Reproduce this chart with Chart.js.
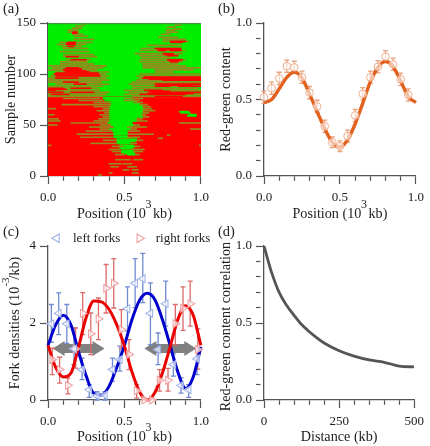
<!DOCTYPE html>
<html><head><meta charset="utf-8">
<style>html,body{margin:0;padding:0;background:#fff;width:430px;height:446px;overflow:hidden}
canvas{position:absolute}</style>
<script src="https://cdn.jsdelivr.net/npm/chart.js@4/dist/chart.umd.min.js"></script>
</head><body>
<canvas id="a" style="left:0;top:0" width="215" height="223"></canvas>
<canvas id="b" style="left:215px;top:0" width="215" height="223"></canvas>
<canvas id="c" style="left:0;top:223px" width="215" height="223"></canvas>
<canvas id="d" style="left:215px;top:223px" width="215" height="223"></canvas>
<script>
// ---------- panel (a): runs are [sample, from, to]
const redBaseTopSample = 77;
const sampleCount = 150;
const oliveRuns = [
[149,.22,.25],[147,.18,.23],[145,.16,.22],[143,.13,.20],[141,.13,.20],[139,.16,.23],[137,.17,.26],[134,.17,.30],[131,.08,.29],[129,.06,.25],[127,.09,.22],[125,.10,.26],[122,.08,.27],[119,.10,.30],[117,.10,.32],[114,.12,.28],[112,.08,.26],[110,.08,.30],[108,0,.38],[106,.03,.36],[104,0,.32],[102,.05,.40],[100,.03,.38],[98,.02,.40],[96,0,.38],[94,0,.40],[92,0,.35],[90,.05,.40],[88,0,.36],[86,0,.33],[84,0,.34],[82,0,.40],[80,0,.38],[78,0,.36],
[148,.83,.87],[146,.78,.83],[144,.82,.87],[143,.77,.83],[141,.77,.85],[139,.74,.80],[136,.72,.85],[134,.75,.90],[132,.75,.92],[128,.65,.87],[125,.61,.87],[123,.60,.90],[120,.57,.88],[118,.60,.85],[116,.61,.80],[114,.60,.90],[112,.60,.88],[110,.62,.85],[108,.62,.90],[106,.62,1],[104,.70,.95],[102,.70,.82],[100,.60,1],[98,.58,.99],[96,.60,1],[94,.58,.80],[92,.55,1],[90,.53,1],[88,.55,1],[86,.55,.98],[84,.50,1],[82,.53,1],[80,.50,1],[78,.55,1],
[76,.10,.34],[76,.50,.62],[74,.20,.36],[74,.50,.60],[72,.30,.40],[72,.56,.62],[70,.09,.41],[70,.60,.65],[68,.30,.40],[68,.62,.67],[66,.36,.40],[66,0,.05],[66,.62,.68],[64,.32,.40],[64,.62,.70],[62,.37,.40],[62,.62,.66],[60,.34,.40],[60,.61,.64],[60,0,.04],[58,.36,.40],[58,.62,.66],[56,.33,.40],[56,0,.07],[56,.58,.62],[54,.30,.40],[54,.58,.65],[54,0,.08],[52,.15,.39],[52,.86,1],[50,.34,.41],[50,.56,.60],[50,0,.06],[48,.27,.43],[48,.52,.645],[46,.34,.40],[46,.54,.58],[46,.93,1],[44,.25,.42],[44,.52,.60],[41,.19,.43],[41,.52,.69],[38,.21,.43],[38,.52,.60],[35,.36,.45],[35,.58,.62],[32,.28,.45],[32,.54,.58],[29,.42,.49],[29,.57,.60],[26,.40,.47],[26,.55,.63],[24,.42,.48],[24,.56,.62],[21,.44,.50],[21,.57,.60],[16,.44,.54],[16,.56,.62],[12,.40,.48],[12,.49,.55],[9,.41,.46],[9,.52,.58],[6,.49,.53],[6,.55,.59],[3,.40,.42],[3,.55,.59],[1,.33,.35],[30,0,.02],[30,.99,1],[37,.72,.75],[40,.78,.80]
];
const topEdgeRun = [[150,0,1]];
const redRuns = [
[141,.16,.19],[140,.16,.19],[131,.13,.18],[130,.12,.18],[129,.12,.18],[127,.13,.17],[117,.12,.20],[114,.15,.25],[106,.12,.20],[105,.11,.22],[104,.10,.22],[103,.11,.25],[102,.12,.27],[101,.05,.33],[100,.04,.33],[99,.05,.34],[98,.05,.34],[96,.05,.20],[92,.10,.20],[90,.17,.25],[86,0,.10],[86,.15,.28],[85,0,.12],[84,0,.05],[82,0,.10],[82,.15,.30],[80,.02,.14],
[132,.80,.90],[131,.80,.88],[125,.70,.87],[124,.72,.87],[123,.72,.77],[123,.80,.87],[120,.75,.82],[119,.76,.82],[118,.78,.85],[114,.78,.88],[113,.79,.86],[112,.80,.85],[97,.63,1],[96,.62,1],[95,.66,1],[94,.75,1],[90,.70,1],[89,.72,.95],[88,.70,.80],[88,.85,1],[84,.63,.75],[83,.66,.80],[82,.68,1],[81,.65,.95],[80,.60,.90],[78,.70,.88]
];
const greenRuns = [
[77,.36,.55],[75,.38,.56],[73,.42,.58],[71,.42,.60],[69,.41,.62],[67,.41,.62],[65,.41,.63],[63,.41,.62],[61,.41,.61],[59,.41,.62],[57,.41,.58],
[76,.36,.50],[74,.37,.50],[72,.40,.56],[70,.41,.60],[68,.40,.62],[66,.40,.62],[64,.40,.62],[62,.40,.62],[60,.40,.61],[58,.40,.62],[56,.40,.58],[55,.42,.56],[54,.40,.58],[53,.40,.55],[52,.39,.55],[51,.42,.55],[50,.41,.56],[49,.42,.55],[48,.43,.52],[47,.43,.54],[46,.40,.54],[45,.42,.52],[44,.42,.52],[43,.43,.52],[42,.43,.52],[41,.43,.52],[39,.43,.52],[38,.43,.52],[36,.45,.58],[35,.45,.58],[34,.45,.57],[33,.45,.54],[32,.45,.54],[30,.47,.56],[29,.49,.57],[28,.47,.56],[27,.47,.55],[25,.48,.56],[24,.48,.56],[23,.48,.56],[22,.50,.57],[21,.52,.57],
[60,.92,.97],[59,.91,.97],[62,.87,.93],[63,.86,.92]
];
// ---------- panel (b)
const rgX = [0,.05,.1,.15,.2,.25,.3,.35,.4,.45,.5,.55,.6,.65,.7,.75,.8,.85,.9,.95];
const rgValues = [.515,.574,.638,.718,.71,.645,.545,.455,.325,.22,.195,.26,.396,.537,.645,.714,.78,.73,.632,.53];
const rgErrors = [.04,.04,.04,.04,.04,.04,.04,.04,.04,.035,.035,.04,.04,.04,.04,.04,.04,.04,.04,.04];
const rgCurveX = [0,.05,.1,.15,.2,.25,.3,.35,.4,.45,.5,.55,.6,.65,.7,.75,.8,.85,.9,.95,1];
const rgCurveY = [.48,.50,.57,.645,.68,.64,.535,.42,.31,.22,.19,.235,.34,.475,.615,.71,.75,.715,.62,.52,.48];
// ---------- panel (c)
const leftX  = [.022,.07,.123,.17,.223,.27,.32,.372,.422,.47,.52,.57,.62,.67,.72,.77,.82,.87,.92,.975];
const leftY  = [1.98,2.25,1.98,1.33,.79,.27,.11,.13,.79,1.05,2.37,3.03,3.15,2.25,1.31,2.5,.92,.38,.27,1.07];
const leftHi = [2.48,2.78,2.48,1.87,1.09,.40,.22,.22,1.09,1.40,2.94,3.67,3.81,3.04,1.74,3.09,1.20,.58,.40,1.32];
const leftLo = [1.50,1.70,1.47,.92,.53,.07,0,0,.49,.75,1.79,2.40,2.53,1.44,.92,1.92,.62,.18,.07,.66];
const rightX  = [.028,.076,.13,.18,.227,.28,.33,.38,.43,.48,.53,.58,.63,.68,.73,.785,.833,.883,.93,.98];
const rightY  = [1.05,.79,.38,1.33,2.25,1.72,2.11,2.90,3.03,1.83,1.18,.24,0,0,.51,.51,1.98,2.38,2.50,1.31];
const rightHi = [1.35,1.11,.57,1.87,2.79,2.26,2.65,3.52,3.67,2.35,1.57,.40,.04,.04,.79,.82,2.48,2.94,3.09,1.85];
const rightLo = [.66,.44,.16,.83,1.70,1.18,1.57,2.26,2.39,1.33,.79,.05,0,0,.23,.23,1.44,1.81,1.92,.80];
const curveX = [0,.05,.1,.15,.2,.25,.3,.35,.4,.45,.5,.55,.6,.65,.7,.75,.8,.85,.9,.95,1];
const leftCurve  = [1.42,1.95,2.2,1.95,1.25,.62,.17,.13,.36,.85,1.42,2.1,2.6,2.77,2.6,2.07,1.4,.72,.3,.6,1.38];
const rightCurve = [1.42,.85,.6,.7,1.38,2.15,2.57,2.55,2.35,1.95,1.4,.72,.2,0,.2,.72,1.4,2.1,2.45,2.2,1.42];
const arrowSpans = [[.03,.37],[.63,.97]];
const arrowLevel = 1.34;
// ---------- panel (d)
const distances = [0,10,25,50,75,100,125,150,175,200,250,300,350,400,450,500];
const correlation = [1,.93,.83,.70,.615,.55,.49,.445,.405,.37,.32,.285,.26,.245,.22,.215];

const SERIF = "'Liberation Serif'";
const INK = '#222';
const AXIS = '#555';
Chart.defaults.animation = false;
Chart.defaults.font.family = SERIF;
Chart.defaults.color = INK;

const toPts = (xs, ys) => xs.map((x,i)=>({x, y:ys[i]}));
const toBars = runs => runs.map(r=>({y:r[0], x:[r[1],r[2]]}));

function axis(min,max,step,majors,fmt,title,size,opts){
  return Object.assign({
    type:'linear',min,max,offset:false,
    border:{color:AXIS,width:1.3},
    grid:{drawOnChartArea:false,drawTicks:true,tickLength:8,offset:false,tickColor:AXIS,tickWidth:1.2,
      tickBorderDash:c=>majors.some(m=>Math.abs(m-c.tick.value)<1e-6)?[]:[4.5,100]},
    ticks:{stepSize:step,autoSkip:false,maxRotation:0,padding:size.pad,font:{size:13},color:INK,
      callback:v=>{const m=majors.find(m=>Math.abs(m-v)<1e-6);return m===undefined?'':fmt(m);}},
    title:{display:true,text:title,font:{size:14.2},color:INK,padding:size.titlePad},
    afterFit:s=>{ if(size.width) s.width=size.width; if(size.height) s.height=size.height; }
  },opts||{});
}
const f1 = v=>v.toFixed(1);
const f0 = v=>String(v);

function base(title, extra){
  return {
    responsive:false,maintainAspectRatio:false,
    layout:{padding:{left:3,right:extra.right,top:0,bottom:0}},
    plugins:{legend:{display:false},tooltip:{enabled:false},
      title:{display:true,text:title,align:'start',color:INK,font:{size:14.5,weight:'normal'},padding:{top:0,bottom:5.6}}},
  };
}
function errorBars(groups, capPx){
  return {id:'errorBars',beforeDatasetsDraw(chart){
    const {ctx,scales:{x,y}}=chart;
    ctx.save();
    groups.forEach(g=>{
      ctx.strokeStyle=g.color;ctx.lineWidth=1.3;
      g.x.forEach((v,i)=>{
        const px=x.getPixelForValue(v),t=y.getPixelForValue(g.hi[i]),b=y.getPixelForValue(g.lo[i]);
        ctx.beginPath();ctx.moveTo(px,t);ctx.lineTo(px,b);
        ctx.moveTo(px-capPx,t);ctx.lineTo(px+capPx,t);
        ctx.moveTo(px-capPx,b);ctx.lineTo(px+capPx,b);ctx.stroke();
      });
    });
    ctx.restore();
  }};
}
function superscript(which, text, dx, dy, size){
  return {id:'sup'+which,afterDraw(chart){
    const {ctx,chartArea:a}=chart;
    ctx.save();ctx.fillStyle=INK;ctx.font=size+'px '+SERIF;ctx.textAlign='center';ctx.textBaseline='middle';
    if(which==='x'){ctx.fillText(text,(a.left+a.right)/2+dx,dy);}
    else{ctx.translate(dx,(a.top+a.bottom)/2+dy);ctx.rotate(-Math.PI/2);ctx.fillText(text,0,0);}
    ctx.restore();
  }};
}
const POS = 'Position (10  kb)';
const xSize = h=>({height:h,pad:6,titlePad:{top:0,bottom:.5}});
const ySize = (w,t)=>({width:w,pad:4,titlePad:{top:t||0,bottom:0}});

// (a)
const allRows=[];for(let s=0;s<=sampleCount;s++)allRows.push(s);
const sizes=[1.6,1.6,1.3,1.0,1.0,1.6];
new Chart(document.getElementById('a'),{type:'bar',
  data:{datasets:[
    {label:'background green',data:allRows.map(s=>({y:s,x:[0,1]})),backgroundColor:'#00ee00'},
    {label:'background red',data:allRows.filter(s=>s<=redBaseTopSample).map(s=>({y:s,x:[0,1]})),backgroundColor:'#ff0000'},
    {label:'green',data:toBars(greenRuns),backgroundColor:'#00ee00'},
    {label:'mixed',data:toBars(oliveRuns),backgroundColor:'#968a1e'},
    {label:'red',data:toBars(redRuns),backgroundColor:'#ff0000'},
    {label:'edge',data:toBars(topEdgeRun),backgroundColor:'#3c9a3c'}
  ].map((d,i)=>Object.assign(d,{barThickness:sizes[i],borderWidth:0,grouped:false,order:10-i}))},
  options:Object.assign(base('(a)',{right:13}),{indexAxis:'y',
    scales:{
      x:axis(0,1,.1,[0,.5,1],f1,POS,xSize(47)),
      y:axis(0,150,50,[0,50,100,150],f0,'Sample number',ySize(45))
    }}),
  plugins:[superscript('x','3',24,205,12)]
});
// (b)
new Chart(document.getElementById('b'),{type:'scatter',
  data:{datasets:[
    {label:'measured',data:toPts(rgX,rgValues),pointStyle:'circle',pointRadius:3.8,pointBorderWidth:1,pointBorderColor:'#f0ad8e',pointBackgroundColor:'rgba(255,255,255,.6)',order:1},
    {label:'fit',data:toPts(rgCurveX,rgCurveY),showLine:true,pointRadius:0,borderColor:'#e2611f',borderWidth:3.4,cubicInterpolationMode:'monotone',order:2}
  ]},
  options:Object.assign(base('(b)',{right:12}),{clip:false,scales:{
      x:axis(0,1,.1,[0,.5,1],f1,POS,xSize(47)),
      y:axis(0,1,.1,[0,.5,1],f1,'Red-green content',ySize(46))
    }}),
  plugins:[errorBars([{x:rgX,hi:rgValues.map((v,i)=>v+rgErrors[i]),lo:rgValues.map((v,i)=>v-rgErrors[i]),color:'#eaa27c'}],2.5),superscript('x','3',24,205,12)]
});
// (c)
new Chart(document.getElementById('c'),{type:'scatter',
  data:{datasets:[
    {label:'left forks',data:toPts(leftX,leftY),pointStyle:'triangle',pointRotation:-90,pointRadius:4.5,pointBorderWidth:1.1,pointBorderColor:'#9fb4e8',pointBackgroundColor:'rgba(255,255,255,.7)',order:1},
    {label:'right forks',data:toPts(rightX,rightY),pointStyle:'triangle',pointRotation:90,pointRadius:4.5,pointBorderWidth:1.1,pointBorderColor:'#f0a0a0',pointBackgroundColor:'rgba(255,255,255,.7)',order:1},
    {label:'left curve',data:toPts(curveX,leftCurve),showLine:true,pointRadius:0,borderColor:'#0000cc',borderWidth:3,cubicInterpolationMode:'monotone',order:3},
    {label:'right curve',data:toPts(curveX,rightCurve),showLine:true,pointRadius:0,borderColor:'#ea0000',borderWidth:3,cubicInterpolationMode:'monotone',order:2}
  ]},
  options:(()=>{const o=base('(c)',{right:13});
    o.clip=false;
    o.plugins.legend={display:true,position:'top',align:'start',
      labels:{usePointStyle:true,boxHeight:7,padding:12.75,color:INK,font:{size:13},
        filter:i=>/forks/.test(i.text),
        generateLabels(chart){return Chart.defaults.plugins.legend.labels.generateLabels(chart).map(l=>Object.assign(l,{text:' '+l.text}));}
      }};
    o.scales={
      x:axis(0,1,.1,[0,.5,1],f1,POS,xSize(46)),
      y:axis(0,4,2,[0,2,4],f0,'Fork densities (10  /kb)',ySize(45,4))
    };return o;})(),
  plugins:[
    {id:'legendPlace',
      beforeLayout(chart){const l=chart.legend;if(l._wrapped)return;l._wrapped=true;const fit=l.fit;
        l.fit=function(){this.maxWidth=400;fit.call(this);this.height=0;};},
      afterLayout(chart){const l=chart.legend;l.left=37.5;l.right=l.left+400;l.top=-4;}},
    {id:'arrows',beforeDatasetsDraw(chart){
      const {ctx,scales:{x,y}}=chart;const py=y.getPixelForValue(arrowLevel);
      ctx.save();ctx.fillStyle='#808080';
      arrowSpans.forEach(s=>{const a=x.getPixelForValue(s[0]),b=x.getPixelForValue(s[1]);
        ctx.beginPath();ctx.moveTo(a,py);ctx.lineTo(a+12,py-7.5);ctx.lineTo(a+12,py-4.5);ctx.lineTo(b-12,py-4.5);ctx.lineTo(b-12,py-7.5);
        ctx.lineTo(b,py);ctx.lineTo(b-12,py+7.5);ctx.lineTo(b-12,py+4.5);ctx.lineTo(a+12,py+4.5);ctx.lineTo(a+12,py+7.5);ctx.closePath();ctx.fill();});
      ctx.restore();
    }},
    errorBars([{x:leftX,hi:leftHi,lo:leftLo,color:'#6f8ad0'},{x:rightX,hi:rightHi,lo:rightLo,color:'#dd6a6a'}],2.5),
    superscript('x','3',24,205,12),superscript('y','-3',6,-41,11)]
});
// (d)
new Chart(document.getElementById('d'),{type:'scatter',
  data:{datasets:[{label:'correlation',data:toPts(distances,correlation),showLine:true,pointRadius:0,borderColor:'#555555',borderWidth:2.8,cubicInterpolationMode:'monotone'}]},
  options:Object.assign(base('(d)',{right:12}),{scales:{
      x:axis(0,500,50,[0,250,500],f0,'Distance (kb)',xSize(46)),
      y:axis(0,1,.1,[0,.5,1],f1,'Red-green content correlation  ',ySize(46))
    }})
});
</script>
</body></html>
